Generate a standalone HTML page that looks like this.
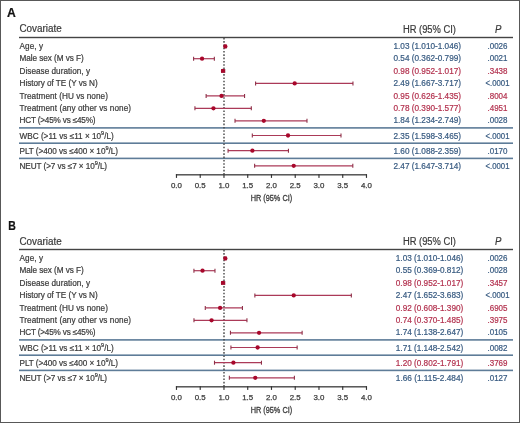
<!DOCTYPE html>
<html><head><meta charset="utf-8"><style>
html,body{margin:0;padding:0;background:#fff;}
svg{display:block;will-change:transform;}
text{font-family:"Liberation Sans",sans-serif;}
</style></head><body>
<svg width="520" height="423" viewBox="0 0 520 423">
<rect x="0" y="0" width="520" height="423" fill="#fff"/>
<text x="7.10" y="16.70" font-size="12" fill="#111" style="stroke:#111;stroke-width:0.2px" textLength="8.8" lengthAdjust="spacingAndGlyphs" font-weight="bold">A</text>
<text x="19.40" y="31.60" font-size="10" fill="#3a3a3a" style="stroke:#3a3a3a;stroke-width:0.2px" textLength="42.3" lengthAdjust="spacingAndGlyphs">Covariate</text>
<text x="402.90" y="32.70" font-size="10" fill="#3a3a3a" style="stroke:#3a3a3a;stroke-width:0.2px" textLength="53.1" lengthAdjust="spacingAndGlyphs">HR (95% CI)</text>
<text x="494.90" y="32.60" font-size="10.6" fill="#3a3a3a" style="stroke:#3a3a3a;stroke-width:0.2px" textLength="6.4" lengthAdjust="spacingAndGlyphs" font-style="italic">P</text>
<rect x="19" y="36.8" width="494" height="1.4" fill="#444"/>
<rect x="19" y="127.10" width="494" height="1.6" fill="#5e7c98"/>
<rect x="19" y="142.40" width="494" height="1.6" fill="#5e7c98"/>
<rect x="19" y="157.60" width="494" height="1.6" fill="#5e7c98"/>
<line x1="224.0" y1="37.8" x2="224.0" y2="174" stroke="#444" stroke-width="1.4" stroke-dasharray="1.6 1.7"/>
<rect x="175.90" y="174.2" width="191.00" height="1.25" fill="#333"/>
<rect x="175.90" y="174.2" width="1.15" height="3.7" fill="#333"/>
<text x="176.40" y="187.90" font-size="8" fill="#3a3a3a" style="stroke:#3a3a3a;stroke-width:0.25px" text-anchor="middle" textLength="11" lengthAdjust="spacingAndGlyphs">0.0</text>
<rect x="199.65" y="174.2" width="1.15" height="3.7" fill="#333"/>
<text x="200.15" y="187.90" font-size="8" fill="#3a3a3a" style="stroke:#3a3a3a;stroke-width:0.25px" text-anchor="middle" textLength="11" lengthAdjust="spacingAndGlyphs">0.5</text>
<rect x="223.40" y="174.2" width="1.15" height="3.7" fill="#333"/>
<text x="223.90" y="187.90" font-size="8" fill="#3a3a3a" style="stroke:#3a3a3a;stroke-width:0.25px" text-anchor="middle" textLength="11" lengthAdjust="spacingAndGlyphs">1.0</text>
<rect x="247.15" y="174.2" width="1.15" height="3.7" fill="#333"/>
<text x="247.65" y="187.90" font-size="8" fill="#3a3a3a" style="stroke:#3a3a3a;stroke-width:0.25px" text-anchor="middle" textLength="11" lengthAdjust="spacingAndGlyphs">1.5</text>
<rect x="270.90" y="174.2" width="1.15" height="3.7" fill="#333"/>
<text x="271.40" y="187.90" font-size="8" fill="#3a3a3a" style="stroke:#3a3a3a;stroke-width:0.25px" text-anchor="middle" textLength="11" lengthAdjust="spacingAndGlyphs">2.0</text>
<rect x="294.65" y="174.2" width="1.15" height="3.7" fill="#333"/>
<text x="295.15" y="187.90" font-size="8" fill="#3a3a3a" style="stroke:#3a3a3a;stroke-width:0.25px" text-anchor="middle" textLength="11" lengthAdjust="spacingAndGlyphs">2.5</text>
<rect x="318.40" y="174.2" width="1.15" height="3.7" fill="#333"/>
<text x="318.90" y="187.90" font-size="8" fill="#3a3a3a" style="stroke:#3a3a3a;stroke-width:0.25px" text-anchor="middle" textLength="11" lengthAdjust="spacingAndGlyphs">3.0</text>
<rect x="342.15" y="174.2" width="1.15" height="3.7" fill="#333"/>
<text x="342.65" y="187.90" font-size="8" fill="#3a3a3a" style="stroke:#3a3a3a;stroke-width:0.25px" text-anchor="middle" textLength="11" lengthAdjust="spacingAndGlyphs">3.5</text>
<rect x="365.90" y="174.2" width="1.15" height="3.7" fill="#333"/>
<text x="366.40" y="187.90" font-size="8" fill="#3a3a3a" style="stroke:#3a3a3a;stroke-width:0.25px" text-anchor="middle" textLength="11" lengthAdjust="spacingAndGlyphs">4.0</text>
<text x="271.40" y="201.40" font-size="8.8" fill="#3a3a3a" style="stroke:#3a3a3a;stroke-width:0.3px" text-anchor="middle" textLength="41.5" lengthAdjust="spacingAndGlyphs">HR (95% CI)</text>
<text x="19.50" y="49.00" font-size="8.2" fill="#3a3a3a" style="stroke:#3a3a3a;stroke-width:0.2px" textLength="23.6" lengthAdjust="spacing">Age, y</text>
<text x="393.50" y="49.00" font-size="8.2" fill="#375a80" style="stroke:#375a80;stroke-width:0.2px" textLength="67.5" lengthAdjust="spacingAndGlyphs">1.03 (1.010-1.046)</text>
<text x="497.50" y="49.00" font-size="8.2" fill="#375a80" style="stroke:#375a80;stroke-width:0.2px" text-anchor="middle" textLength="20.0" lengthAdjust="spacingAndGlyphs">.0026</text>
<line x1="224.38" y1="46.40" x2="226.09" y2="46.40" stroke="#ab3a58" stroke-width="1.2"/>
<line x1="224.38" y1="44.40" x2="224.38" y2="48.40" stroke="#8e3048" stroke-width="1.1"/>
<line x1="226.09" y1="44.40" x2="226.09" y2="48.40" stroke="#8e3048" stroke-width="1.1"/>
<circle cx="225.33" cy="46.40" r="2.15" fill="#a8072b"/>
<text x="19.50" y="61.30" font-size="8.2" fill="#3a3a3a" style="stroke:#3a3a3a;stroke-width:0.2px" textLength="64.3" lengthAdjust="spacing">Male sex (M vs F)</text>
<text x="393.50" y="61.30" font-size="8.2" fill="#375a80" style="stroke:#375a80;stroke-width:0.2px" textLength="67.5" lengthAdjust="spacingAndGlyphs">0.54 (0.362-0.799)</text>
<text x="497.50" y="61.30" font-size="8.2" fill="#375a80" style="stroke:#375a80;stroke-width:0.2px" text-anchor="middle" textLength="20.0" lengthAdjust="spacingAndGlyphs">.0021</text>
<line x1="193.59" y1="58.70" x2="214.35" y2="58.70" stroke="#ab3a58" stroke-width="1.2"/>
<line x1="193.59" y1="56.70" x2="193.59" y2="60.70" stroke="#8e3048" stroke-width="1.1"/>
<line x1="214.35" y1="56.70" x2="214.35" y2="60.70" stroke="#8e3048" stroke-width="1.1"/>
<circle cx="202.05" cy="58.70" r="2.15" fill="#a8072b"/>
<text x="19.50" y="73.50" font-size="8.2" fill="#3a3a3a" style="stroke:#3a3a3a;stroke-width:0.2px" textLength="70.5" lengthAdjust="spacing">Disease duration, y</text>
<text x="393.50" y="73.50" font-size="8.2" fill="#b3324f" style="stroke:#b3324f;stroke-width:0.2px" textLength="67.5" lengthAdjust="spacingAndGlyphs">0.98 (0.952-1.017)</text>
<text x="497.50" y="73.50" font-size="8.2" fill="#b3324f" style="stroke:#b3324f;stroke-width:0.2px" text-anchor="middle" textLength="20.0" lengthAdjust="spacingAndGlyphs">.3438</text>
<line x1="221.62" y1="70.90" x2="224.71" y2="70.90" stroke="#ab3a58" stroke-width="1.2"/>
<line x1="221.62" y1="68.90" x2="221.62" y2="72.90" stroke="#8e3048" stroke-width="1.1"/>
<line x1="224.71" y1="68.90" x2="224.71" y2="72.90" stroke="#8e3048" stroke-width="1.1"/>
<circle cx="222.95" cy="70.90" r="2.15" fill="#a8072b"/>
<text x="19.50" y="86.00" font-size="8.2" fill="#3a3a3a" style="stroke:#3a3a3a;stroke-width:0.2px" textLength="78.2" lengthAdjust="spacing">History of TE (Y vs N)</text>
<text x="393.50" y="86.00" font-size="8.2" fill="#375a80" style="stroke:#375a80;stroke-width:0.2px" textLength="67.5" lengthAdjust="spacingAndGlyphs">2.49 (1.667-3.717)</text>
<text x="497.50" y="86.00" font-size="8.2" fill="#375a80" style="stroke:#375a80;stroke-width:0.2px" text-anchor="middle" textLength="24.0" lengthAdjust="spacingAndGlyphs">&lt;.0001</text>
<line x1="255.58" y1="83.40" x2="352.96" y2="83.40" stroke="#ab3a58" stroke-width="1.2"/>
<line x1="255.58" y1="81.40" x2="255.58" y2="85.40" stroke="#8e3048" stroke-width="1.1"/>
<line x1="352.96" y1="81.40" x2="352.96" y2="85.40" stroke="#8e3048" stroke-width="1.1"/>
<circle cx="294.68" cy="83.40" r="2.15" fill="#a8072b"/>
<text x="19.50" y="98.50" font-size="8.2" fill="#3a3a3a" style="stroke:#3a3a3a;stroke-width:0.2px" textLength="88.4" lengthAdjust="spacing">Treatment (HU vs none)</text>
<text x="393.50" y="98.50" font-size="8.2" fill="#b3324f" style="stroke:#b3324f;stroke-width:0.2px" textLength="67.5" lengthAdjust="spacingAndGlyphs">0.95 (0.626-1.435)</text>
<text x="497.50" y="98.50" font-size="8.2" fill="#b3324f" style="stroke:#b3324f;stroke-width:0.2px" text-anchor="middle" textLength="20.0" lengthAdjust="spacingAndGlyphs">.8004</text>
<line x1="206.13" y1="95.90" x2="244.56" y2="95.90" stroke="#ab3a58" stroke-width="1.2"/>
<line x1="206.13" y1="93.90" x2="206.13" y2="97.90" stroke="#8e3048" stroke-width="1.1"/>
<line x1="244.56" y1="93.90" x2="244.56" y2="97.90" stroke="#8e3048" stroke-width="1.1"/>
<circle cx="221.53" cy="95.90" r="2.15" fill="#a8072b"/>
<text x="19.50" y="110.90" font-size="8.2" fill="#3a3a3a" style="stroke:#3a3a3a;stroke-width:0.2px" textLength="111.5" lengthAdjust="spacing">Treatment (any other vs none)</text>
<text x="393.50" y="110.90" font-size="8.2" fill="#b3324f" style="stroke:#b3324f;stroke-width:0.2px" textLength="67.5" lengthAdjust="spacingAndGlyphs">0.78 (0.390-1.577)</text>
<text x="497.50" y="110.90" font-size="8.2" fill="#b3324f" style="stroke:#b3324f;stroke-width:0.2px" text-anchor="middle" textLength="20.0" lengthAdjust="spacingAndGlyphs">.4951</text>
<line x1="194.93" y1="108.30" x2="251.31" y2="108.30" stroke="#ab3a58" stroke-width="1.2"/>
<line x1="194.93" y1="106.30" x2="194.93" y2="110.30" stroke="#8e3048" stroke-width="1.1"/>
<line x1="251.31" y1="106.30" x2="251.31" y2="110.30" stroke="#8e3048" stroke-width="1.1"/>
<circle cx="213.45" cy="108.30" r="2.15" fill="#a8072b"/>
<text x="19.50" y="123.40" font-size="8.2" fill="#3a3a3a" style="stroke:#3a3a3a;stroke-width:0.2px" textLength="76.0" lengthAdjust="spacing">HCT (&gt;45% vs &#8804;45%)</text>
<text x="393.50" y="123.40" font-size="8.2" fill="#375a80" style="stroke:#375a80;stroke-width:0.2px" textLength="67.5" lengthAdjust="spacingAndGlyphs">1.84 (1.234-2.749)</text>
<text x="497.50" y="123.40" font-size="8.2" fill="#375a80" style="stroke:#375a80;stroke-width:0.2px" text-anchor="middle" textLength="20.0" lengthAdjust="spacingAndGlyphs">.0028</text>
<line x1="235.02" y1="120.80" x2="306.98" y2="120.80" stroke="#ab3a58" stroke-width="1.2"/>
<line x1="235.02" y1="118.80" x2="235.02" y2="122.80" stroke="#8e3048" stroke-width="1.1"/>
<line x1="306.98" y1="118.80" x2="306.98" y2="122.80" stroke="#8e3048" stroke-width="1.1"/>
<circle cx="263.80" cy="120.80" r="2.15" fill="#a8072b"/>
<text x="19.50" y="138.60" font-size="8.2" fill="#3a3a3a" style="stroke:#3a3a3a;stroke-width:0.2px" textLength="94.3" lengthAdjust="spacing">WBC (&gt;11 vs &#8804;11 &#215; 10<tspan dy="-3.6" font-size="5.6">9</tspan><tspan dy="3.6">/L)</tspan></text>
<text x="393.50" y="138.60" font-size="8.2" fill="#375a80" style="stroke:#375a80;stroke-width:0.2px" textLength="67.5" lengthAdjust="spacingAndGlyphs">2.35 (1.598-3.465)</text>
<text x="497.50" y="138.60" font-size="8.2" fill="#375a80" style="stroke:#375a80;stroke-width:0.2px" text-anchor="middle" textLength="24.0" lengthAdjust="spacingAndGlyphs">&lt;.0001</text>
<line x1="252.31" y1="135.50" x2="340.99" y2="135.50" stroke="#ab3a58" stroke-width="1.2"/>
<line x1="252.31" y1="133.50" x2="252.31" y2="137.50" stroke="#8e3048" stroke-width="1.1"/>
<line x1="340.99" y1="133.50" x2="340.99" y2="137.50" stroke="#8e3048" stroke-width="1.1"/>
<circle cx="288.02" cy="135.50" r="2.15" fill="#a8072b"/>
<text x="19.50" y="153.80" font-size="8.2" fill="#3a3a3a" style="stroke:#3a3a3a;stroke-width:0.2px" textLength="98.4" lengthAdjust="spacing">PLT (&gt;400 vs &#8804;400 &#215; 10<tspan dy="-3.6" font-size="5.6">9</tspan><tspan dy="3.6">/L)</tspan></text>
<text x="393.50" y="153.80" font-size="8.2" fill="#375a80" style="stroke:#375a80;stroke-width:0.2px" textLength="67.5" lengthAdjust="spacingAndGlyphs">1.60 (1.088-2.359)</text>
<text x="497.50" y="153.80" font-size="8.2" fill="#375a80" style="stroke:#375a80;stroke-width:0.2px" text-anchor="middle" textLength="20.0" lengthAdjust="spacingAndGlyphs">.0170</text>
<line x1="228.08" y1="150.70" x2="288.45" y2="150.70" stroke="#ab3a58" stroke-width="1.2"/>
<line x1="228.08" y1="148.70" x2="228.08" y2="152.70" stroke="#8e3048" stroke-width="1.1"/>
<line x1="288.45" y1="148.70" x2="288.45" y2="152.70" stroke="#8e3048" stroke-width="1.1"/>
<circle cx="252.40" cy="150.70" r="2.15" fill="#a8072b"/>
<text x="19.50" y="168.90" font-size="8.2" fill="#3a3a3a" style="stroke:#3a3a3a;stroke-width:0.2px" textLength="87.6" lengthAdjust="spacing">NEUT (&gt;7 vs &#8804;7 &#215; 10<tspan dy="-3.6" font-size="5.6">9</tspan><tspan dy="3.6">/L)</tspan></text>
<text x="393.50" y="168.90" font-size="8.2" fill="#375a80" style="stroke:#375a80;stroke-width:0.2px" textLength="67.5" lengthAdjust="spacingAndGlyphs">2.47 (1.647-3.714)</text>
<text x="497.50" y="168.90" font-size="8.2" fill="#375a80" style="stroke:#375a80;stroke-width:0.2px" text-anchor="middle" textLength="24.0" lengthAdjust="spacingAndGlyphs">&lt;.0001</text>
<line x1="254.63" y1="165.80" x2="352.81" y2="165.80" stroke="#ab3a58" stroke-width="1.2"/>
<line x1="254.63" y1="163.80" x2="254.63" y2="167.80" stroke="#8e3048" stroke-width="1.1"/>
<line x1="352.81" y1="163.80" x2="352.81" y2="167.80" stroke="#8e3048" stroke-width="1.1"/>
<circle cx="293.73" cy="165.80" r="2.15" fill="#a8072b"/>
<text x="8.30" y="229.90" font-size="12" fill="#111" style="stroke:#111;stroke-width:0.2px" textLength="7.6" lengthAdjust="spacingAndGlyphs" font-weight="bold">B</text>
<text x="19.40" y="244.56" font-size="10" fill="#3a3a3a" style="stroke:#3a3a3a;stroke-width:0.2px" textLength="42.3" lengthAdjust="spacingAndGlyphs">Covariate</text>
<text x="402.90" y="244.70" font-size="10" fill="#3a3a3a" style="stroke:#3a3a3a;stroke-width:0.2px" textLength="53.1" lengthAdjust="spacingAndGlyphs">HR (95% CI)</text>
<text x="494.90" y="244.60" font-size="10.6" fill="#3a3a3a" style="stroke:#3a3a3a;stroke-width:0.2px" textLength="6.4" lengthAdjust="spacingAndGlyphs" font-style="italic">P</text>
<rect x="19" y="248.8" width="494" height="1.4" fill="#444"/>
<rect x="19" y="339.10" width="494" height="1.6" fill="#5e7c98"/>
<rect x="19" y="354.40" width="494" height="1.6" fill="#5e7c98"/>
<rect x="19" y="369.60" width="494" height="1.6" fill="#5e7c98"/>
<line x1="224.0" y1="249.8" x2="224.0" y2="386" stroke="#444" stroke-width="1.4" stroke-dasharray="1.6 1.7"/>
<rect x="175.90" y="386.2" width="191.00" height="1.25" fill="#333"/>
<rect x="175.90" y="386.2" width="1.15" height="3.7" fill="#333"/>
<text x="176.40" y="399.90" font-size="8" fill="#3a3a3a" style="stroke:#3a3a3a;stroke-width:0.25px" text-anchor="middle" textLength="11" lengthAdjust="spacingAndGlyphs">0.0</text>
<rect x="199.65" y="386.2" width="1.15" height="3.7" fill="#333"/>
<text x="200.15" y="399.90" font-size="8" fill="#3a3a3a" style="stroke:#3a3a3a;stroke-width:0.25px" text-anchor="middle" textLength="11" lengthAdjust="spacingAndGlyphs">0.5</text>
<rect x="223.40" y="386.2" width="1.15" height="3.7" fill="#333"/>
<text x="223.90" y="399.90" font-size="8" fill="#3a3a3a" style="stroke:#3a3a3a;stroke-width:0.25px" text-anchor="middle" textLength="11" lengthAdjust="spacingAndGlyphs">1.0</text>
<rect x="247.15" y="386.2" width="1.15" height="3.7" fill="#333"/>
<text x="247.65" y="399.90" font-size="8" fill="#3a3a3a" style="stroke:#3a3a3a;stroke-width:0.25px" text-anchor="middle" textLength="11" lengthAdjust="spacingAndGlyphs">1.5</text>
<rect x="270.90" y="386.2" width="1.15" height="3.7" fill="#333"/>
<text x="271.40" y="399.90" font-size="8" fill="#3a3a3a" style="stroke:#3a3a3a;stroke-width:0.25px" text-anchor="middle" textLength="11" lengthAdjust="spacingAndGlyphs">2.0</text>
<rect x="294.65" y="386.2" width="1.15" height="3.7" fill="#333"/>
<text x="295.15" y="399.90" font-size="8" fill="#3a3a3a" style="stroke:#3a3a3a;stroke-width:0.25px" text-anchor="middle" textLength="11" lengthAdjust="spacingAndGlyphs">2.5</text>
<rect x="318.40" y="386.2" width="1.15" height="3.7" fill="#333"/>
<text x="318.90" y="399.90" font-size="8" fill="#3a3a3a" style="stroke:#3a3a3a;stroke-width:0.25px" text-anchor="middle" textLength="11" lengthAdjust="spacingAndGlyphs">3.0</text>
<rect x="342.15" y="386.2" width="1.15" height="3.7" fill="#333"/>
<text x="342.65" y="399.90" font-size="8" fill="#3a3a3a" style="stroke:#3a3a3a;stroke-width:0.25px" text-anchor="middle" textLength="11" lengthAdjust="spacingAndGlyphs">3.5</text>
<rect x="365.90" y="386.2" width="1.15" height="3.7" fill="#333"/>
<text x="366.40" y="399.90" font-size="8" fill="#3a3a3a" style="stroke:#3a3a3a;stroke-width:0.25px" text-anchor="middle" textLength="11" lengthAdjust="spacingAndGlyphs">4.0</text>
<text x="271.40" y="413.40" font-size="8.8" fill="#3a3a3a" style="stroke:#3a3a3a;stroke-width:0.3px" text-anchor="middle" textLength="41.5" lengthAdjust="spacingAndGlyphs">HR (95% CI)</text>
<text x="19.50" y="261.00" font-size="8.2" fill="#3a3a3a" style="stroke:#3a3a3a;stroke-width:0.2px" textLength="23.6" lengthAdjust="spacing">Age, y</text>
<text x="395.80" y="261.00" font-size="8.2" fill="#375a80" style="stroke:#375a80;stroke-width:0.2px" textLength="67.5" lengthAdjust="spacingAndGlyphs">1.03 (1.010-1.046)</text>
<text x="497.50" y="261.00" font-size="8.2" fill="#375a80" style="stroke:#375a80;stroke-width:0.2px" text-anchor="middle" textLength="20.0" lengthAdjust="spacingAndGlyphs">.0026</text>
<line x1="224.38" y1="258.40" x2="226.09" y2="258.40" stroke="#ab3a58" stroke-width="1.2"/>
<line x1="224.38" y1="256.40" x2="224.38" y2="260.40" stroke="#8e3048" stroke-width="1.1"/>
<line x1="226.09" y1="256.40" x2="226.09" y2="260.40" stroke="#8e3048" stroke-width="1.1"/>
<circle cx="225.33" cy="258.40" r="2.15" fill="#a8072b"/>
<text x="19.50" y="273.30" font-size="8.2" fill="#3a3a3a" style="stroke:#3a3a3a;stroke-width:0.2px" textLength="64.3" lengthAdjust="spacing">Male sex (M vs F)</text>
<text x="395.80" y="273.30" font-size="8.2" fill="#375a80" style="stroke:#375a80;stroke-width:0.2px" textLength="67.5" lengthAdjust="spacingAndGlyphs">0.55 (0.369-0.812)</text>
<text x="497.50" y="273.30" font-size="8.2" fill="#375a80" style="stroke:#375a80;stroke-width:0.2px" text-anchor="middle" textLength="20.0" lengthAdjust="spacingAndGlyphs">.0028</text>
<line x1="193.93" y1="270.70" x2="214.97" y2="270.70" stroke="#ab3a58" stroke-width="1.2"/>
<line x1="193.93" y1="268.70" x2="193.93" y2="272.70" stroke="#8e3048" stroke-width="1.1"/>
<line x1="214.97" y1="268.70" x2="214.97" y2="272.70" stroke="#8e3048" stroke-width="1.1"/>
<circle cx="202.53" cy="270.70" r="2.15" fill="#a8072b"/>
<text x="19.50" y="285.50" font-size="8.2" fill="#3a3a3a" style="stroke:#3a3a3a;stroke-width:0.2px" textLength="70.5" lengthAdjust="spacing">Disease duration, y</text>
<text x="395.80" y="285.50" font-size="8.2" fill="#b3324f" style="stroke:#b3324f;stroke-width:0.2px" textLength="67.5" lengthAdjust="spacingAndGlyphs">0.98 (0.952-1.017)</text>
<text x="497.50" y="285.50" font-size="8.2" fill="#b3324f" style="stroke:#b3324f;stroke-width:0.2px" text-anchor="middle" textLength="20.0" lengthAdjust="spacingAndGlyphs">.3457</text>
<line x1="221.62" y1="282.90" x2="224.71" y2="282.90" stroke="#ab3a58" stroke-width="1.2"/>
<line x1="221.62" y1="280.90" x2="221.62" y2="284.90" stroke="#8e3048" stroke-width="1.1"/>
<line x1="224.71" y1="280.90" x2="224.71" y2="284.90" stroke="#8e3048" stroke-width="1.1"/>
<circle cx="222.95" cy="282.90" r="2.15" fill="#a8072b"/>
<text x="19.50" y="298.00" font-size="8.2" fill="#3a3a3a" style="stroke:#3a3a3a;stroke-width:0.2px" textLength="78.2" lengthAdjust="spacing">History of TE (Y vs N)</text>
<text x="395.80" y="298.00" font-size="8.2" fill="#375a80" style="stroke:#375a80;stroke-width:0.2px" textLength="67.5" lengthAdjust="spacingAndGlyphs">2.47 (1.652-3.683)</text>
<text x="497.50" y="298.00" font-size="8.2" fill="#375a80" style="stroke:#375a80;stroke-width:0.2px" text-anchor="middle" textLength="24.0" lengthAdjust="spacingAndGlyphs">&lt;.0001</text>
<line x1="254.87" y1="295.40" x2="351.34" y2="295.40" stroke="#ab3a58" stroke-width="1.2"/>
<line x1="254.87" y1="293.40" x2="254.87" y2="297.40" stroke="#8e3048" stroke-width="1.1"/>
<line x1="351.34" y1="293.40" x2="351.34" y2="297.40" stroke="#8e3048" stroke-width="1.1"/>
<circle cx="293.73" cy="295.40" r="2.15" fill="#a8072b"/>
<text x="19.50" y="310.50" font-size="8.2" fill="#3a3a3a" style="stroke:#3a3a3a;stroke-width:0.2px" textLength="88.4" lengthAdjust="spacing">Treatment (HU vs none)</text>
<text x="395.80" y="310.50" font-size="8.2" fill="#b3324f" style="stroke:#b3324f;stroke-width:0.2px" textLength="67.5" lengthAdjust="spacingAndGlyphs">0.92 (0.608-1.390)</text>
<text x="497.50" y="310.50" font-size="8.2" fill="#b3324f" style="stroke:#b3324f;stroke-width:0.2px" text-anchor="middle" textLength="20.0" lengthAdjust="spacingAndGlyphs">.6905</text>
<line x1="205.28" y1="307.90" x2="242.43" y2="307.90" stroke="#ab3a58" stroke-width="1.2"/>
<line x1="205.28" y1="305.90" x2="205.28" y2="309.90" stroke="#8e3048" stroke-width="1.1"/>
<line x1="242.43" y1="305.90" x2="242.43" y2="309.90" stroke="#8e3048" stroke-width="1.1"/>
<circle cx="220.10" cy="307.90" r="2.15" fill="#a8072b"/>
<text x="19.50" y="322.90" font-size="8.2" fill="#3a3a3a" style="stroke:#3a3a3a;stroke-width:0.2px" textLength="111.5" lengthAdjust="spacing">Treatment (any other vs none)</text>
<text x="395.80" y="322.90" font-size="8.2" fill="#b3324f" style="stroke:#b3324f;stroke-width:0.2px" textLength="67.5" lengthAdjust="spacingAndGlyphs">0.74 (0.370-1.485)</text>
<text x="497.50" y="322.90" font-size="8.2" fill="#b3324f" style="stroke:#b3324f;stroke-width:0.2px" text-anchor="middle" textLength="20.0" lengthAdjust="spacingAndGlyphs">.3975</text>
<line x1="193.97" y1="320.30" x2="246.94" y2="320.30" stroke="#ab3a58" stroke-width="1.2"/>
<line x1="193.97" y1="318.30" x2="193.97" y2="322.30" stroke="#8e3048" stroke-width="1.1"/>
<line x1="246.94" y1="318.30" x2="246.94" y2="322.30" stroke="#8e3048" stroke-width="1.1"/>
<circle cx="211.55" cy="320.30" r="2.15" fill="#a8072b"/>
<text x="19.50" y="335.40" font-size="8.2" fill="#3a3a3a" style="stroke:#3a3a3a;stroke-width:0.2px" textLength="76.0" lengthAdjust="spacing">HCT (&gt;45% vs &#8804;45%)</text>
<text x="395.80" y="335.40" font-size="8.2" fill="#375a80" style="stroke:#375a80;stroke-width:0.2px" textLength="67.5" lengthAdjust="spacingAndGlyphs">1.74 (1.138-2.647)</text>
<text x="497.50" y="335.40" font-size="8.2" fill="#375a80" style="stroke:#375a80;stroke-width:0.2px" text-anchor="middle" textLength="20.0" lengthAdjust="spacingAndGlyphs">.0105</text>
<line x1="230.45" y1="332.80" x2="302.13" y2="332.80" stroke="#ab3a58" stroke-width="1.2"/>
<line x1="230.45" y1="330.80" x2="230.45" y2="334.80" stroke="#8e3048" stroke-width="1.1"/>
<line x1="302.13" y1="330.80" x2="302.13" y2="334.80" stroke="#8e3048" stroke-width="1.1"/>
<circle cx="259.05" cy="332.80" r="2.15" fill="#a8072b"/>
<text x="19.50" y="350.60" font-size="8.2" fill="#3a3a3a" style="stroke:#3a3a3a;stroke-width:0.2px" textLength="94.3" lengthAdjust="spacing">WBC (&gt;11 vs &#8804;11 &#215; 10<tspan dy="-3.6" font-size="5.6">9</tspan><tspan dy="3.6">/L)</tspan></text>
<text x="395.80" y="350.60" font-size="8.2" fill="#375a80" style="stroke:#375a80;stroke-width:0.2px" textLength="67.5" lengthAdjust="spacingAndGlyphs">1.71 (1.148-2.542)</text>
<text x="497.50" y="350.60" font-size="8.2" fill="#375a80" style="stroke:#375a80;stroke-width:0.2px" text-anchor="middle" textLength="20.0" lengthAdjust="spacingAndGlyphs">.0082</text>
<line x1="230.93" y1="347.50" x2="297.14" y2="347.50" stroke="#ab3a58" stroke-width="1.2"/>
<line x1="230.93" y1="345.50" x2="230.93" y2="349.50" stroke="#8e3048" stroke-width="1.1"/>
<line x1="297.14" y1="345.50" x2="297.14" y2="349.50" stroke="#8e3048" stroke-width="1.1"/>
<circle cx="257.62" cy="347.50" r="2.15" fill="#a8072b"/>
<text x="19.50" y="365.80" font-size="8.2" fill="#3a3a3a" style="stroke:#3a3a3a;stroke-width:0.2px" textLength="98.4" lengthAdjust="spacing">PLT (&gt;400 vs &#8804;400 &#215; 10<tspan dy="-3.6" font-size="5.6">9</tspan><tspan dy="3.6">/L)</tspan></text>
<text x="395.80" y="365.80" font-size="8.2" fill="#b3324f" style="stroke:#b3324f;stroke-width:0.2px" textLength="67.5" lengthAdjust="spacingAndGlyphs">1.20 (0.802-1.791)</text>
<text x="497.50" y="365.80" font-size="8.2" fill="#b3324f" style="stroke:#b3324f;stroke-width:0.2px" text-anchor="middle" textLength="20.0" lengthAdjust="spacingAndGlyphs">.3769</text>
<line x1="214.50" y1="362.70" x2="261.47" y2="362.70" stroke="#ab3a58" stroke-width="1.2"/>
<line x1="214.50" y1="360.70" x2="214.50" y2="364.70" stroke="#8e3048" stroke-width="1.1"/>
<line x1="261.47" y1="360.70" x2="261.47" y2="364.70" stroke="#8e3048" stroke-width="1.1"/>
<circle cx="233.40" cy="362.70" r="2.15" fill="#a8072b"/>
<text x="19.50" y="380.90" font-size="8.2" fill="#3a3a3a" style="stroke:#3a3a3a;stroke-width:0.2px" textLength="87.6" lengthAdjust="spacing">NEUT (&gt;7 vs &#8804;7 &#215; 10<tspan dy="-3.6" font-size="5.6">9</tspan><tspan dy="3.6">/L)</tspan></text>
<text x="395.80" y="380.90" font-size="8.2" fill="#375a80" style="stroke:#375a80;stroke-width:0.2px" textLength="67.5" lengthAdjust="spacingAndGlyphs">1.66 (1.115-2.484)</text>
<text x="497.50" y="380.90" font-size="8.2" fill="#375a80" style="stroke:#375a80;stroke-width:0.2px" text-anchor="middle" textLength="20.0" lengthAdjust="spacingAndGlyphs">.0127</text>
<line x1="229.36" y1="377.80" x2="294.39" y2="377.80" stroke="#ab3a58" stroke-width="1.2"/>
<line x1="229.36" y1="375.80" x2="229.36" y2="379.80" stroke="#8e3048" stroke-width="1.1"/>
<line x1="294.39" y1="375.80" x2="294.39" y2="379.80" stroke="#8e3048" stroke-width="1.1"/>
<circle cx="255.25" cy="377.80" r="2.15" fill="#a8072b"/>
<rect x="0.5" y="0.5" width="519" height="422" fill="none" stroke="#585858" stroke-width="1"/>
</svg>
</body></html>
